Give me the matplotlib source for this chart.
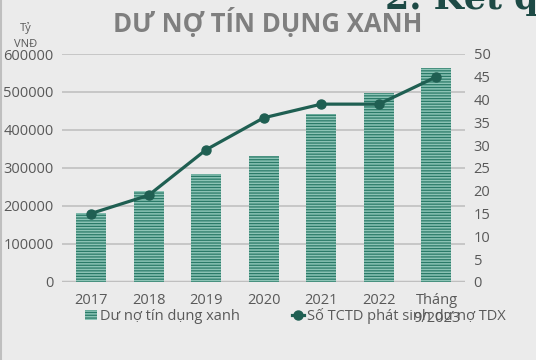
import matplotlib.pyplot as plt
import numpy as np

# Du lieu
nam = ['2017', '2018', '2019', '2020', '2021', '2022', 'Tháng\n9/2023']
du_no = [181000, 239000, 284000, 331000, 442000, 497000, 563000]
so_tctd = [15, 19, 29, 36, 39, 39, 45]

mau_nen = '#ebebeb'
mau_chu = '#595959'
mau_duong = '#1f5f52'

plt.rcParams['font.family'] = ['Open Sans', 'DejaVu Sans']
plt.rcParams['hatch.color'] = '#2a7a68'
plt.rcParams['hatch.linewidth'] = 0.9

fig = plt.figure(figsize=(5.36, 3.6), dpi=100, facecolor=mau_nen)
ax = fig.add_axes([0.116, 0.217, 0.752, 0.633], facecolor=mau_nen)

x = np.arange(len(nam))
cot = ax.bar(x, du_no, width=0.52, color='#8cc4b6', edgecolor='#2a7a68',
             linewidth=0, hatch='------', label='Dư nợ tín dụng xanh', zorder=2)
ax.set_ylim(0, 600000)
ax.set_yticks(range(0, 600001, 100000))
ax.set_xlim(-0.5, len(nam) - 0.5)
ax.set_xticks(x)
ax.set_xticklabels(nam, linespacing=1.3)
ax.grid(axis='y', color='#c0c0c0', linewidth=1.2, zorder=0)
ax.set_axisbelow(True)
for s in ax.spines.values():
    s.set_visible(False)
ax.axhline(0, color='#bfbfbf', linewidth=2.5, zorder=1)
ax.tick_params(length=0, labelsize=10.5, colors=mau_chu, pad=6)
ax.tick_params(axis='x', pad=8)

ax2 = ax.twinx()
duong, = ax2.plot(x, so_tctd, color=mau_duong, linewidth=2.3, marker='o',
                  markersize=6.5, label='Số TCTD phát sinh dư nợ TDX', zorder=3)
ax2.set_ylim(0, 50)
ax2.set_yticks(range(0, 51, 5))
for s in ax2.spines.values():
    s.set_visible(False)
ax2.tick_params(length=0, labelsize=10.5, colors=mau_chu, pad=6)

fig.text(0.5, 0.935, 'DƯ NỢ TÍN DỤNG XANH', ha='center', va='center',
         fontsize=18.5, fontweight='bold', color='#7f7f7f')
fig.text(0.048, 0.9, 'Tỷ\nVNĐ', ha='center', va='center', fontsize=8,
         color=mau_chu, linespacing=1.6)
# titulo de la diapositiva, cortado arriba
fig.text(0.718, 0.975, '2. Kết quả', ha='left', va='baseline', fontsize=25,
         fontweight='bold', color='#1d4a45', family='DejaVu Serif')

fig.legend(handles=[cot, duong], loc='center left', bbox_to_anchor=(0.135, 0.123),
           ncol=2, frameon=False, fontsize=10.5, labelcolor=mau_chu,
           handlelength=0.8, handletextpad=0.2, columnspacing=3.6)

# borde izquierdo
fig.add_artist(plt.Line2D([0.002, 0.002], [0, 1], color='#bfbfbf', linewidth=1.5))

fig.savefig('out.png', dpi=100, facecolor=mau_nen)
